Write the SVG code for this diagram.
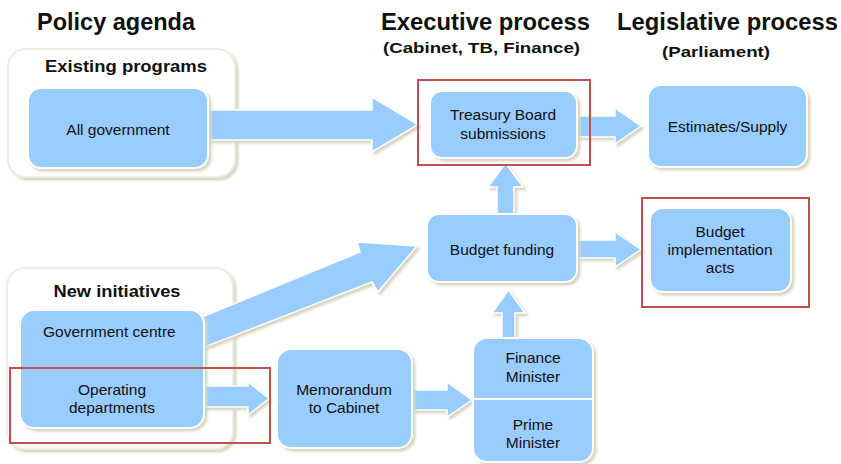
<svg xmlns="http://www.w3.org/2000/svg" width="841" height="464" viewBox="0 0 841 464">
<defs>
<filter id="sh" x="-10%" y="-10%" width="130%" height="130%">
<feDropShadow dx="2.5" dy="2.5" stdDeviation="1" flood-color="#D9D5C2"/>
</filter>
<clipPath id="gcclip"><rect x="20" y="310" width="158" height="40"/></clipPath>
</defs>
<style>
.title{font-family:"Liberation Sans",Arial,sans-serif;font-weight:bold;font-size:24px;fill:#111}
.sub{font-family:"Liberation Sans",Arial,sans-serif;font-weight:bold;font-size:15px;fill:#111}
.clab{font-family:"Liberation Sans",Arial,sans-serif;font-weight:bold;font-size:17px;fill:#111;text-anchor:middle}
.t{font-family:"Liberation Sans",Arial,sans-serif;font-size:15.5px;fill:#111;text-anchor:middle}
.cont{fill:#fff;stroke:#EFECE2;stroke-width:2;filter:url(#sh)}
.node{fill:#99CCFF;stroke:#fff;stroke-width:2;filter:url(#sh)}
.arr{fill:#99CCFF;stroke:#fff;stroke-width:1.5;stroke-linejoin:miter;filter:url(#sh)}
.red{fill:none;stroke:#C0504D;stroke-width:2}
</style>
<rect width="841" height="464" fill="#fff"/>
<g id="titles">
<text class="title" x="37" y="30" textLength="158" lengthAdjust="spacingAndGlyphs">Policy agenda</text>
<text class="title" x="381" y="30" textLength="209" lengthAdjust="spacingAndGlyphs">Executive process</text>
<text class="title" x="617" y="30" textLength="221" lengthAdjust="spacingAndGlyphs">Legislative process</text>
<text class="sub" x="383" y="53" textLength="197" lengthAdjust="spacingAndGlyphs">(Cabinet, TB, Finance)</text>
<text class="sub" x="662" y="57" textLength="108" lengthAdjust="spacingAndGlyphs">(Parliament)</text>
</g>
<g id="existing-programs">
<rect class="cont" x="8" y="49" width="227" height="128" rx="18"/>
<text class="clab" x="126" y="72" textLength="162" lengthAdjust="spacingAndGlyphs">Existing programs</text>
</g>
<g id="new-initiatives">
<rect class="cont" x="7" y="268" width="226" height="181" rx="18"/>
<text class="clab" x="117" y="297" textLength="127" lengthAdjust="spacingAndGlyphs">New initiatives</text>
</g>
<g id="connectors">
<polygon class="arr" points="206,110 372,110 372,97 418,124.5 372,152 372,140 206,140"/>
<polygon class="arr" points="575,116 615,116 615,108 641,126 615,144 615,137 575,137"/>
<polygon class="arr" points="575,240 615,240 615,232 641,249.5 615,267 615,258 575,258"/>
<polygon class="arr" points="202,386 248,386 248,382 269,398.5 248,415 248,407 202,407"/>
<polygon class="arr" points="410,390 447,390 447,382 472,400 447,417 447,410 410,410"/>
<polygon class="arr" points="497,216 497,187 488,187 505.5,163 523,187 514,187 514,216"/>
<polygon class="arr" points="502,342 502,313 492,313 508.5,290 525,313 515,313 515,342"/>
<polygon class="arr" points="202,317 360,252 357,242 417,246 378,292 372,282 202,348"/>
</g>
<g id="all-government">
<rect class="node" x="28" y="88" width="180" height="80" rx="13"/>
<text class="t" x="118" y="135">All government</text>
</g>
<g id="treasury-board">
<rect class="node" x="430" y="91" width="147" height="67" rx="12"/>
<text class="t" x="503" y="120">Treasury Board</text>
<text class="t" x="503" y="139">submissions</text>
</g>
<g id="estimates">
<rect class="node" x="648" y="85" width="159" height="82" rx="13"/>
<text class="t" x="727.5" y="132">Estimates/Supply</text>
</g>
<g id="budget-funding">
<rect class="node" x="427" y="214" width="150" height="68" rx="12"/>
<text class="t" x="502" y="255">Budget funding</text>
</g>
<g id="budget-implementation">
<rect class="node" x="650" y="208" width="141" height="84" rx="13"/>
<text class="t" x="720" y="237">Budget</text>
<text class="t" x="720" y="255">implementation</text>
<text class="t" x="720" y="273">acts</text>
</g>
<g id="government-centre-operating">
<rect class="node" x="20" y="310" width="184" height="118" rx="14"/>
<text class="t" x="43" y="337" style="text-anchor:start" clip-path="url(#gcclip)">Government centre</text>
<text class="t" x="112" y="395">Operating</text>
<text class="t" x="112" y="413">departments</text>
</g>
<g id="memorandum">
<rect class="node" x="277" y="349" width="135" height="99" rx="14"/>
<text class="t" x="344" y="395">Memorandum</text>
<text class="t" x="344" y="413">to Cabinet</text>
</g>
<g id="finance-prime">
<rect class="node" x="473" y="338" width="120" height="124" rx="14"/>
<line x1="473" y1="399" x2="593" y2="399" stroke="#fff" stroke-width="2"/>
<text class="t" x="533" y="363">Finance</text>
<text class="t" x="533" y="382">Minister</text>
<text class="t" x="533" y="430">Prime</text>
<text class="t" x="533" y="448">Minister</text>
</g>
<g id="highlights">
<rect class="red" x="418" y="80" width="172" height="85"/>
<rect class="red" x="642" y="198" width="167" height="109"/>
<rect class="red" x="10" y="368" width="260" height="75"/>
</g>
</svg>
